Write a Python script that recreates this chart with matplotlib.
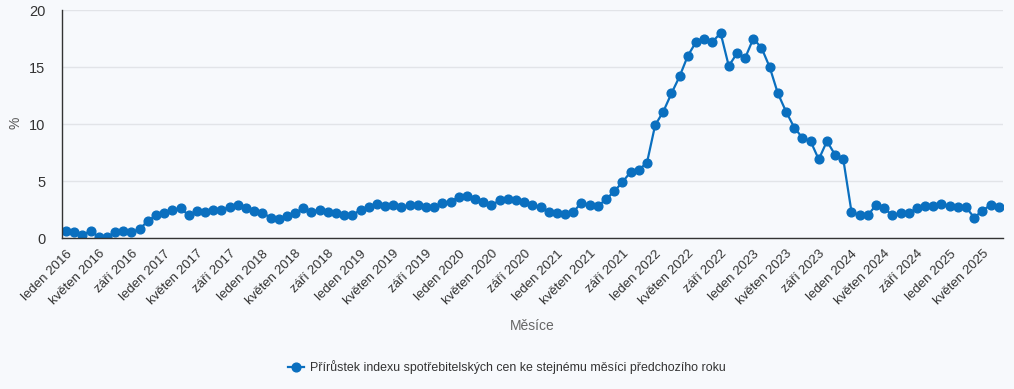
import matplotlib.pyplot as plt

# Přírůstek CPI ke stejnému měsíci předchozího roku, leden 2016 - červenec 2025
months = ["leden", "únor", "březen", "duben", "květen", "červen",
          "červenec", "srpen", "září", "říjen", "listopad", "prosinec"]
years = [2016, 2017, 2018, 2019, 2020, 2021, 2022, 2023, 2024, 2025]

values_2016 = [0.6, 0.5, 0.3, 0.6, 0.1, 0.1, 0.5, 0.6, 0.5, 0.8, 1.5, 2.0]
values_2017 = [2.2, 2.5, 2.6, 2.0, 2.4, 2.3, 2.5, 2.5, 2.7, 2.9, 2.6, 2.4]
values_2018 = [2.2, 1.8, 1.7, 1.9, 2.2, 2.6, 2.3, 2.5, 2.3, 2.2, 2.0, 2.0]
values_2019 = [2.5, 2.7, 3.0, 2.8, 2.9, 2.7, 2.9, 2.9, 2.7, 2.7, 3.1, 3.2]
values_2020 = [3.6, 3.7, 3.4, 3.2, 2.9, 3.3, 3.4, 3.3, 3.2, 2.9, 2.7, 2.3]
values_2021 = [2.2, 2.1, 2.3, 3.1, 2.9, 2.8, 3.4, 4.1, 4.9, 5.8, 6.0, 6.6]
values_2022 = [9.9, 11.1, 12.7, 14.2, 16.0, 17.2, 17.5, 17.2, 18.0, 15.1, 16.2, 15.8]
values_2023 = [17.5, 16.7, 15.0, 12.7, 11.1, 9.7, 8.8, 8.5, 6.9, 8.5, 7.3, 6.9]
values_2024 = [2.3, 2.0, 2.0, 2.9, 2.6, 2.0, 2.2, 2.2, 2.6, 2.8, 2.8, 3.0]
values_2025 = [2.8, 2.7, 2.7, 1.8, 2.4, 2.9, 2.7]

values = (values_2016 + values_2017 + values_2018 + values_2019 + values_2020
          + values_2021 + values_2022 + values_2023 + values_2024 + values_2025)
labels = [f"{m} {y}" for y in years for m in months][:len(values)]

plt.rcParams['font.family'] = ['Liberation Sans', 'DejaVu Sans']
bg = "#f7f9fc"
blue = "#0a6fbf"

fig = plt.figure(figsize=(10.14, 3.89), dpi=100, facecolor=bg)
ax = fig.add_axes([0.0611, 0.388, 0.9279, 0.586], facecolor=bg)

x = list(range(len(values)))
ax.plot(x, values, color=blue, lw=1.6, marker="o", ms=6.3, mec=blue, mfc=blue,
        label="Přírůstek indexu spotřebitelských cen ke stejnému měsíci předchozího roku")

ax.set_xlim(-0.5, len(values) - 0.5)
ax.set_ylim(0, 20)
ax.set_yticks([0, 5, 10, 15, 20])
ax.set_xticks(x[::4])
ax.set_xticklabels(labels[::4], rotation=45, ha="right", rotation_mode="anchor")
ax.tick_params(axis="x", length=0, pad=7, labelsize=9.5, labelcolor="#333333")
ax.tick_params(axis="y", length=0, pad=12, labelsize=10.5, labelcolor="#333333")
ax.grid(axis="y", color="#e2e4e8", lw=1)
ax.set_axisbelow(True)
for s in ["top", "right"]:
    ax.spines[s].set_visible(False)
for s in ["left", "bottom"]:
    ax.spines[s].set_color("#333333")
    ax.spines[s].set_linewidth(1)

fig.text(16 / 1014, 1 - 123 / 389, "%", rotation=90, ha="center", va="center",
         fontsize=10, color="#555555")
fig.text(532 / 1014, 1 - 326 / 389, "Měsíce", ha="center", va="center",
         fontsize=10, color="#666666")
fig.legend(loc="center", bbox_to_anchor=(0.5, 1 - 367 / 389), frameon=False,
           fontsize=8.9, handlelength=1.3, handletextpad=0.5, labelcolor="#333333")

fig.savefig("out.png", dpi=100, facecolor=bg)
